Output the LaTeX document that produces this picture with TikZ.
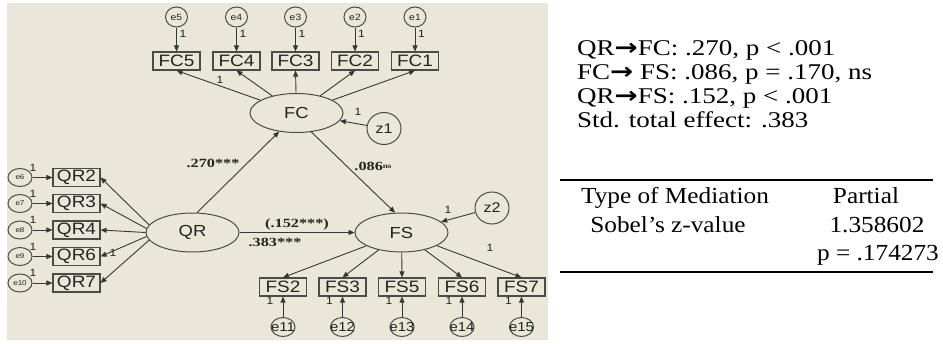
\documentclass[tikz,border=0pt]{standalone}
\usepackage{fontspec}
\setmainfont{Liberation Serif}
\newfontfamily\amos[FakeStretch=1.15]{Liberation Sans}
\newfontfamily\coef[FakeStretch=1.3]{Liberation Serif}
\newfontfamily\rtext[FakeStretch=1.2]{Liberation Serif}
\newfontfamily\tabtext[FakeStretch=1.1]{Liberation Serif}
\newfontfamily\arrowfont{DejaVu Sans}
\usetikzlibrary{shapes.geometric,arrows.meta}
\definecolor{bgc}{RGB}{234,230,216}
\definecolor{linec}{RGB}{55,55,55}
\definecolor{boxc}{RGB}{75,75,75}
\definecolor{txtc}{RGB}{35,35,35}
\newcommand{\rarr}{{\arrowfont\bfseries\fontsize{23}{23}\selectfont\scalebox{1.2}[1]{→}}}
\begin{document}
\begin{tikzpicture}[x=1pt,y=-1pt,
  conn/.style={draw=linec, line width=0.9pt},
  arr/.style={conn, -{Triangle[length=6pt,width=5pt]}},
  ind/.style={rectangle, draw=boxc, line width=1.1pt, minimum width=47pt, minimum height=18pt, inner sep=0pt, text=txtc, font=\amos\fontsize{16.5}{16.5}\selectfont},
  lat/.style={ellipse, draw=boxc, line width=1pt, minimum width=93pt, minimum height=39pt, inner sep=0pt, text=txtc, font=\amos\fontsize{16}{16}\selectfont},
  zc/.style={ellipse, draw=boxc, line width=1pt, minimum width=34pt, minimum height=32pt, inner sep=0pt, text=txtc, font=\amos\fontsize{14}{14}\selectfont},
  errA/.style={ellipse, draw=boxc, line width=1pt, minimum width=22pt, minimum height=20pt, inner sep=0pt, text=txtc, font=\amos\fontsize{9}{9}\selectfont},
  errB/.style={ellipse, draw=boxc, line width=1pt, minimum width=24pt, minimum height=18pt, inner sep=0pt, text=txtc, font=\amos\fontsize{7}{7}\selectfont},
  errC/.style={ellipse, draw=boxc, line width=1pt, minimum width=24pt, minimum height=19pt, inner sep=0pt, text=txtc, font=\amos\fontsize{13}{13}\selectfont},
  one/.style={inner sep=0pt, text=txtc, font=\amos\fontsize{10.5}{10.5}\selectfont},
  coefl/.style={inner sep=0pt, text=txtc, font=\coef\bfseries\fontsize{12.5}{12.5}\selectfont},
  rline/.style={anchor=base west, inner sep=0pt, font=\rtext\fontsize{22.5}{22.5}\selectfont},
  tline/.style={anchor=base, inner sep=0pt, font=\tabtext\fontsize{23}{23}\selectfont}
]
\useasboundingbox (0,0) rectangle (943,343);
\fill[white] (0,0) rectangle (943,343);
\fill[bgc] (7,3) rectangle (548,340);

% latent variables
\node[lat] (FC) at (296.5,113) {FC};
\node[lat] (QR) at (192.5,232.5) {QR};
\node[lat] (FS) at (401.5,232.5) {FS};
\node[zc] (z1) at (384,128.5) {z1};
\node[zc] (z2) at (492,208) {z2};

% FC indicators
\foreach \n/\x/\e in {FC5/176.5/e5, FC4/236.5/e4, FC3/295.5/e3, FC2/355/e2, FC1/415/e1} {
  \node[ind] (\n) at (\x,61) {\n};
  \node[errA] (\e) at (\x,17) {\makebox[0pt]{\e}};
  \draw[arr] (\e) -- (\n);
  \node[one] (o\e) at (\x+6.5,34) {1};
  \draw[arr] (FC) -- (\n.south);
}

% QR indicators
\foreach \n/\y/\e/\a in {QR2/177.5/e6/170, QR3/203.5/e7/175, QR4/230/e8/180, QR6/256.5/e9/185, QR7/283/e10/190} {
  \node[ind] (\n) at (76.5,\y) {\n};
  \node[errB] (\e) at (20,\y) {\makebox[0pt]{\e}};
  \draw[arr] (\e) -- (\n);
  \node[one] (o\e) at (33,\y-10) {1};
  \draw[arr] (QR.\a) -- (\n.east);
}

% FS indicators
\foreach \n/\x/\e in {FS2/283/e11, FS3/342.5/e12, FS5/402/e13, FS6/462/e14, FS7/521.5/e15} {
  \node[ind] (\n) at (\x,287) {\n};
  \node[errC] (\e) at (\x,327) {\makebox[0pt]{\e}};
  \draw[arr] (\e) -- (\n);
  \node[one] (o\e) at (\x-13,301) {1};
  \draw[arr] (FS) -- (\n.north);
}

% structural paths
\draw[arr] (QR.77) -- (FC.227);
\draw[arr] (FC.308) -- (FS.108);
\draw[arr] (QR) -- (FS);
\draw[arr] (z1) -- (FC);
\draw[arr] (z2) -- (FS);

% fixed-parameter labels
\node[one] (oFC5) at (220,80) {1};
\node[one] (oz1) at (358,112) {1};
\node[one] (oQR6) at (113,253) {1};
\node[one] (oz2) at (448,210) {1};
\node[one] (oFS7) at (490,248) {1};

% coefficients
\node[coefl] (c270) at (213,163) {.270***};
\node[coefl] (c086) at (373,166) {.086\raisebox{1.5pt}{\fontsize{7}{7}\selectfont ns}};
\node[coefl] (c152) at (297,224) {(.152***)};
\node[coefl] (c383) at (275,242) {.383***};

% right-hand text
\node[rline] (r1) at (577,55) {QR\rarr FC: .270, p < .001};
\node[rline] (r2) at (577,79) {FC\rarr{} FS: .086, p = .170, ns};
\node[rline] (r3) at (577,103) {QR\rarr FS: .152, p < .001};
\node[rline] (r4) at (577,127) {Std. total effect: .383};

% table
\draw[line width=2pt] (560,180) -- (933,180);
\draw[line width=2pt] (560,272) -- (933,272);
\node[tline] (t1) at (675,203) {Type of Mediation};
\node[tline] (t2) at (866,203) {Partial};
\node[tline] (t3) at (668,232) {Sobel’s z-value};
\node[tline] (t4) at (877,232) {1.358602};
\node[tline] (t5) at (878,260) {p = .174273};
\end{tikzpicture}
\end{document}
